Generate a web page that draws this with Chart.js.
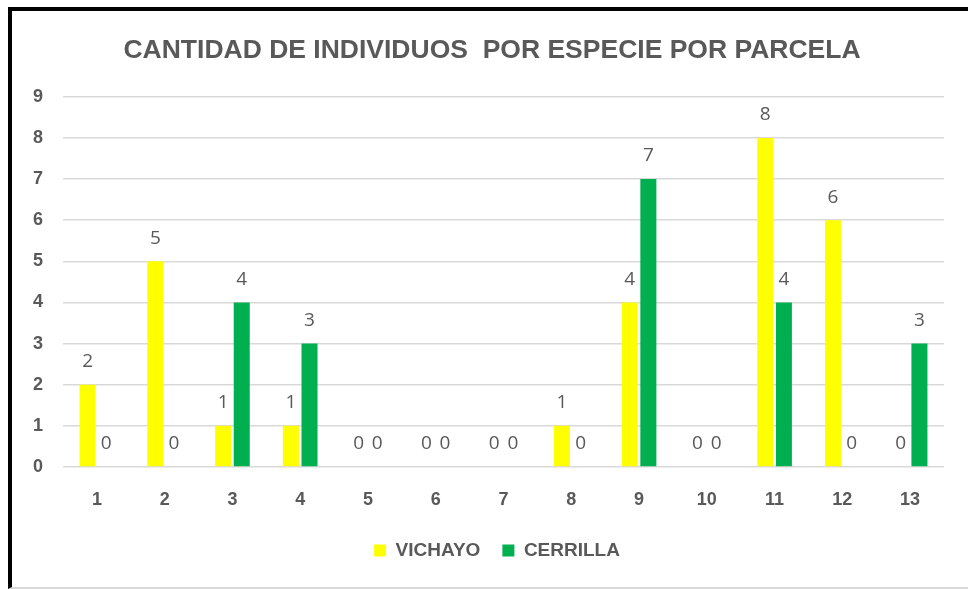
<!DOCTYPE html>
<html>
<head>
<meta charset="utf-8">
<script src="https://cdn.jsdelivr.net/npm/chart.js@4.4.1/dist/chart.umd.min.js"></script>
<style>
  html, body { margin: 0; padding: 0; background: #fff; }
  #wrap { position: relative; width: 968px; height: 589px; overflow: hidden; }
  #frame { position: absolute; left: 8px; top: 7px; width: 980px; height: 576px;
           border-left: 4px solid #000; border-top: 4px solid #000; border-bottom: 2px solid #d9d9d9;
           pointer-events: none; }
  canvas { position: absolute; left: 0; top: 0; }
</style>
</head>
<body>
<div id="wrap">
  <canvas id="c" width="968" height="589"></canvas>
  <div id="frame"></div>
</div>
<script>
const categories = ['1','2','3','4','5','6','7','8','9','10','11','12','13'];
const vichayo  = [2, 5, 1, 1, 0, 0, 0, 1, 4, 0, 8, 6, 0];
const cerrilla = [0, 0, 4, 3, 0, 0, 0, 0, 7, 0, 4, 0, 3];
const seriesNames = ['VICHAYO', 'CERRILLA'];
const titleText = 'CANTIDAD DE INDIVIDUOS  POR ESPECIE POR PARCELA';

const GRAY = '#595959';

const valueLabels = {
  id: 'valueLabels',
  afterDatasetsDraw(chart) {
    const ctx = chart.ctx;
    ctx.save();
    ctx.font = '19px "Open Sans", "Liberation Sans", sans-serif';
    ctx.fillStyle = GRAY;
    ctx.textAlign = 'center';
    ctx.textBaseline = 'middle';
    chart.data.datasets.forEach((ds, i) => {
      const meta = chart.getDatasetMeta(i);
      meta.data.forEach((el, j) => {
        ctx.fillText(String(ds.data[j]), el.x, el.y - 23);
      });
    });
    ctx.restore();
  }
};

// nudge the centred title and legend to the right, as in the reference
const shiftBoxes = {
  id: 'shiftBoxes',
  afterLayout(chart) {
    if (chart.titleBlock) { chart.titleBlock.left += 10; chart.titleBlock.right += 10; }
    if (chart.legend) { chart.legend.left += 15; chart.legend.right += 15; }
  }
};

new Chart(document.getElementById('c'), {
  type: 'bar',
  data: {
    labels: categories,
    datasets: [
      { label: seriesNames[0], data: vichayo, backgroundColor: '#FFFF00',
        categoryPercentage: 0.55, barPercentage: 0.86 },
      { label: seriesNames[1], data: cerrilla, backgroundColor: '#00B050',
        categoryPercentage: 0.55, barPercentage: 0.86 }
    ]
  },
  options: {
    responsive: false,
    animation: false,
    layout: { padding: { left: 20, right: 24, top: 0, bottom: 19 } },
    plugins: {
      title: {
        display: true,
        text: titleText,
        color: GRAY,
        font: { family: '"Liberation Sans", Arial, sans-serif', size: 26.5, weight: 'bold' },
        padding: { top: 35, bottom: 30 }
      },
      legend: {
        position: 'bottom',
        labels: {
          color: GRAY,
          boxWidth: 12,
          boxHeight: 12,
          padding: 22,
          font: { family: '"Liberation Sans", Arial, sans-serif', size: 19, weight: 'bold' }
        }
      },
      tooltip: { enabled: false }
    },
    scales: {
      x: {
        grid: { display: false, drawTicks: false },
        border: { display: false },
        ticks: {
          color: GRAY,
          padding: 22,
          font: { family: '"Liberation Sans", Arial, sans-serif', size: 18, weight: 'bold' }
        },
        afterFit(scale) { scale.height = 52; }
      },
      y: {
        min: 0, max: 9,
        grid: { color: '#d9d9d9', lineWidth: 1.5, drawTicks: false },
        border: { display: false },
        ticks: {
          stepSize: 1,
          color: GRAY,
          padding: 20,
          font: { family: '"Liberation Sans", Arial, sans-serif', size: 18, weight: 'bold' }
        },
        afterFit(scale) { scale.width = 43; }
      }
    }
  },
  plugins: [valueLabels, shiftBoxes]
});
</script>
</body>
</html>
